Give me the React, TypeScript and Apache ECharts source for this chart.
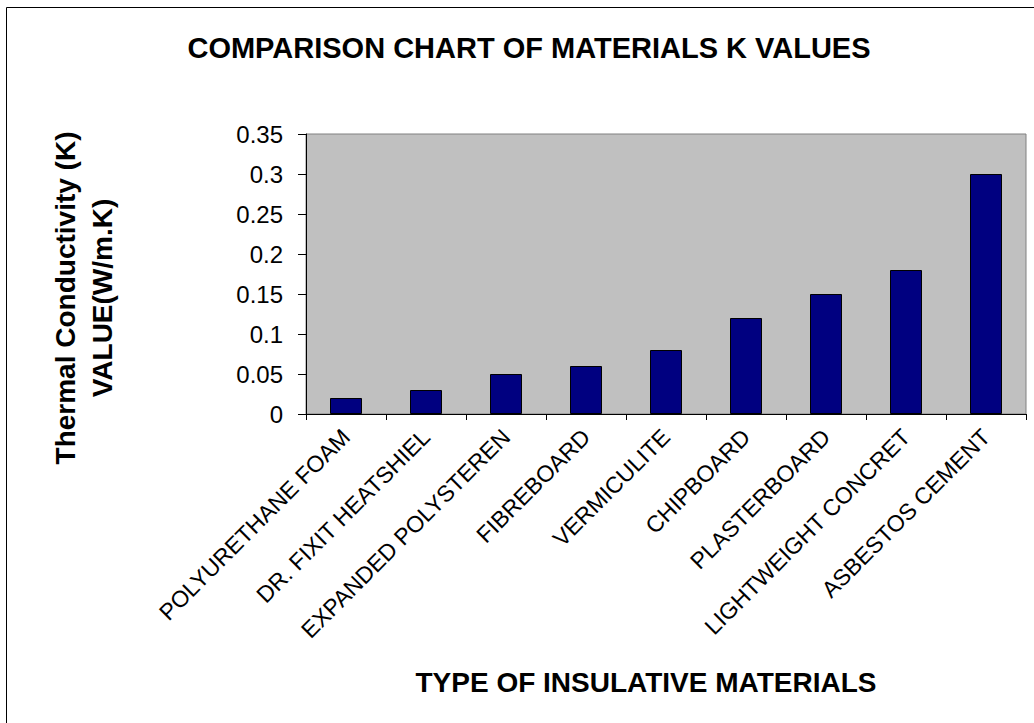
import React, { useEffect, useRef } from "react";
import * as echarts from "echarts";

const categories = [
  "POLYURETHANE FOAM",
  "DR. FIXIT HEATSHIELD",
  "EXPANDED POLYSTERENE",
  "FIBREBOARD",
  "VERMICULITE",
  "CHIPBOARD",
  "PLASTERBOARD",
  "LIGHTWEIGHT CONCRETE",
  "ASBESTOS CEMENT",
];
// labels as they are visible (clipped) in the chart
const tickLabels = [
  "POLYURETHANE FOAM",
  "DR. FIXIT HEATSHIEL",
  "EXPANDED POLYSTEREN",
  "FIBREBOARD",
  "VERMICULITE",
  "CHIPBOARD",
  "PLASTERBOARD",
  "LIGHTWEIGHT CONCRET",
  "ASBESTOS CEMENT",
];
const kValues = [0.02, 0.03, 0.05, 0.06, 0.08, 0.12, 0.15, 0.18, 0.3];

const titleText = "COMPARISON CHART OF MATERIALS K VALUES";
const yTitle1 = "Thermal Conductivity (K)";
const yTitle2 = "VALUE(W/m.K)";
const xTitle = "TYPE OF INSULATIVE MATERIALS";

const FONT = "'Liberation Sans', Arial, sans-serif";

export default function App() {
  const ref = useRef<HTMLDivElement>(null);
  useEffect(() => {
    if (!ref.current) return;
    const chart = echarts.init(ref.current, null, { renderer: "svg" });
    chart.setOption({
      animation: false,
      backgroundColor: "#ffffff",
      grid: {
        left: 306,
        top: 134,
        right: 8,
        bottom: 309,
        show: true,
        backgroundColor: "#c0c0c0",
        borderColor: "#808080",
        borderWidth: 1,
      },
      xAxis: {
        type: "category",
        data: categories,
        axisLine: { lineStyle: { color: "#000", width: 1 } },
        axisTick: { show: true, length: 6, lineStyle: { color: "#000" } },
        axisLabel: {
          rotate: 45,
          margin: 19,
          interval: 0,
          color: "#000",
          fontSize: 23,
          fontFamily: FONT,
          formatter: (_v: string, i: number) => tickLabels[i],
        },
        splitLine: { show: false },
      },
      yAxis: {
        type: "value",
        min: 0,
        max: 0.35,
        interval: 0.05,
        axisLine: { show: true, lineStyle: { color: "#000", width: 1 } },
        axisTick: { show: true, length: 8, lineStyle: { color: "#000" } },
        axisLabel: {
          margin: 23,
          color: "#000",
          fontSize: 24,
          fontFamily: FONT,
        },
        splitLine: { show: false },
      },
      series: [
        {
          type: "bar",
          data: kValues,
          barWidth: "40%",
          itemStyle: { color: "#000080", borderColor: "#000", borderWidth: 1 },
        },
      ],
      graphic: [
        {
          type: "rect",
          shape: { x: 6.5, y: 7.5, width: 1100, height: 1100 },
          style: { fill: "none", stroke: "#000", lineWidth: 1 },
          silent: true,
          z: -1,
        },
        {
          type: "text",
          x: 529,
          y: 48,
          style: {
            text: titleText,
            font: `bold 29px ${FONT}`,
            fill: "#000",
            textAlign: "center",
            textVerticalAlign: "middle",
          },
        },
        {
          type: "text",
          x: 65,
          y: 298,
          rotation: Math.PI / 2,
          style: {
            text: yTitle1,
            font: `bold 28px ${FONT}`,
            fill: "#000",
            textAlign: "center",
            textVerticalAlign: "middle",
          },
        },
        {
          type: "text",
          x: 102,
          y: 298,
          rotation: Math.PI / 2,
          style: {
            text: yTitle2,
            font: `bold 28px ${FONT}`,
            fill: "#000",
            textAlign: "center",
            textVerticalAlign: "middle",
          },
        },
        {
          type: "text",
          x: 646,
          y: 682,
          style: {
            text: xTitle,
            font: `bold 28px ${FONT}`,
            fill: "#000",
            textAlign: "center",
            textVerticalAlign: "middle",
          },
        },
      ],
    });
    return () => chart.dispose();
  }, []);
  return (
    <div
      ref={ref}
      style={{ position: "absolute", left: 0, top: 0, width: 1034, height: 723 }}
    />
  );
}
